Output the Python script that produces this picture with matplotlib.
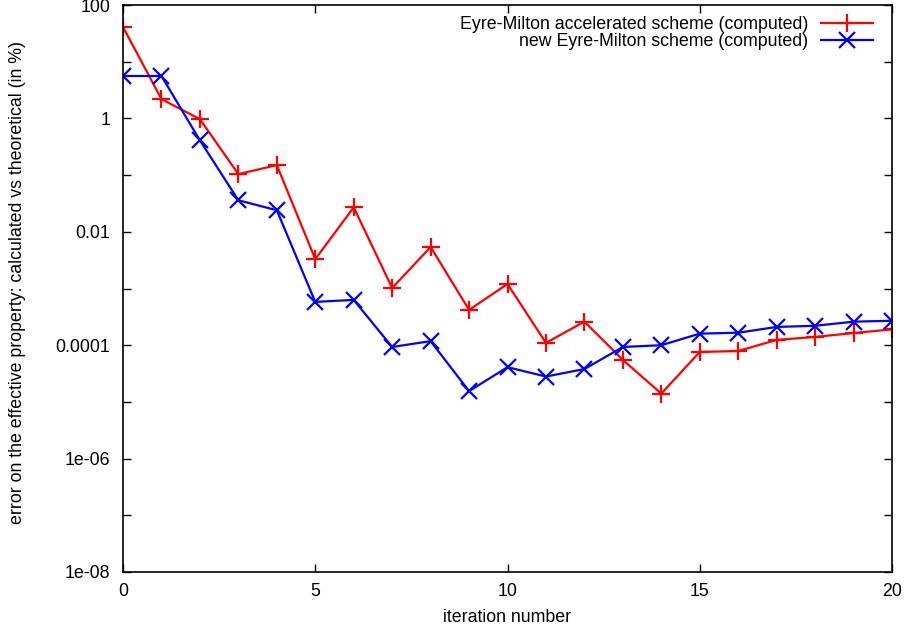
import matplotlib
matplotlib.use("Agg")
import matplotlib.pyplot as plt
from matplotlib.ticker import FixedLocator, FixedFormatter, NullLocator

iterations = list(range(21))
accelerated = [41, 2.19, 0.97, 0.104, 0.15, 0.0033, 0.027, 0.00102, 0.0054, 0.00042,
               0.0012, 0.00011, 0.00026, 5.5e-5, 1.4e-5, 7.6e-5, 7.9e-5, 0.000124,
               0.00014, 0.000164, 0.00019]
new_scheme = [5.6, 5.6, 0.41, 0.036, 0.024, 0.00058, 0.00063, 9.3e-5, 0.000118, 1.55e-5,
              4.1e-5, 2.8e-5, 3.8e-5, 9.3e-5, 0.0001, 0.00016, 0.000166, 0.00021,
              0.00022, 0.00026, 0.00027]
ytick_vals = [1e2, 1e0, 1e-2, 1e-4, 1e-6, 1e-8]
ytick_labels = ["100", "1", "0.01", "0.0001", "1e-06", "1e-08"]
xtick_vals = [0, 5, 10, 15, 20]

plt.rcParams['font.family'] = ['Liberation Sans', 'DejaVu Sans']
FS = 12.8
fig = plt.figure(figsize=(9.08, 6.34), dpi=100)
W, H = 908, 634
L, R, T, B = 123, 892, 5, 572
ax = fig.add_axes([L / W, 1 - B / H, (R - L) / W, (B - T) / H])

ax.plot(iterations, accelerated, color='#ff0000', lw=1.6, marker='+', ms=12.5,
        mew=1.6, label='Eyre-Milton accelerated scheme (computed)')
ax.plot(iterations, new_scheme, color='#0000ff', lw=1.6, marker='x', ms=12,
        mew=1.6, label='new Eyre-Milton scheme (computed)')

ax.set_yscale('log')
ax.set_ylim(1e-8, 1e2)
ax.set_xlim(0, 20)
decades = [10.0**k for k in range(-8, 3)]
ax.yaxis.set_major_locator(FixedLocator(decades))
lbls = []
for v in decades:
    match = [l for tv, l in zip(ytick_vals, ytick_labels) if abs(tv - v) / v < 1e-9]
    lbls.append(match[0] if match else "")
ax.yaxis.set_major_formatter(FixedFormatter(lbls))
ax.yaxis.set_minor_locator(NullLocator())
ax.set_xticks(xtick_vals)
ax.tick_params(direction='in', top=True, right=True, length=6, width=1,
               labelsize=FS)
ax.tick_params(axis='y', pad=9)
ax.tick_params(axis='x', pad=8)
for sp in ax.spines.values():
    sp.set_linewidth(1.2)

ax.set_xlabel('iteration number', fontsize=FS)
ax.set_ylabel('error on the effective property: calculated vs theoretical (in %)',
              fontsize=FS)
ax.xaxis.set_label_coords(0.5, -(617 - B) / (B - T), transform=ax.transAxes)
ax.yaxis.set_label_coords(-(L - 18) / (R - L), (B - 282.5) / (B - T),
                          transform=ax.transAxes)
ax.xaxis.label.set_va('center')
ax.yaxis.label.set_va('center')

ax.legend(loc='upper right', bbox_to_anchor=(1 - 7 / (R - L), 1 + 1 / (B - T)),
          markerfirst=False, frameon=False, fontsize=FS,
          handlelength=2.9, borderaxespad=0.3, labelspacing=0.0,
          handletextpad=0.7)

fig.savefig('out.png', dpi=100)
